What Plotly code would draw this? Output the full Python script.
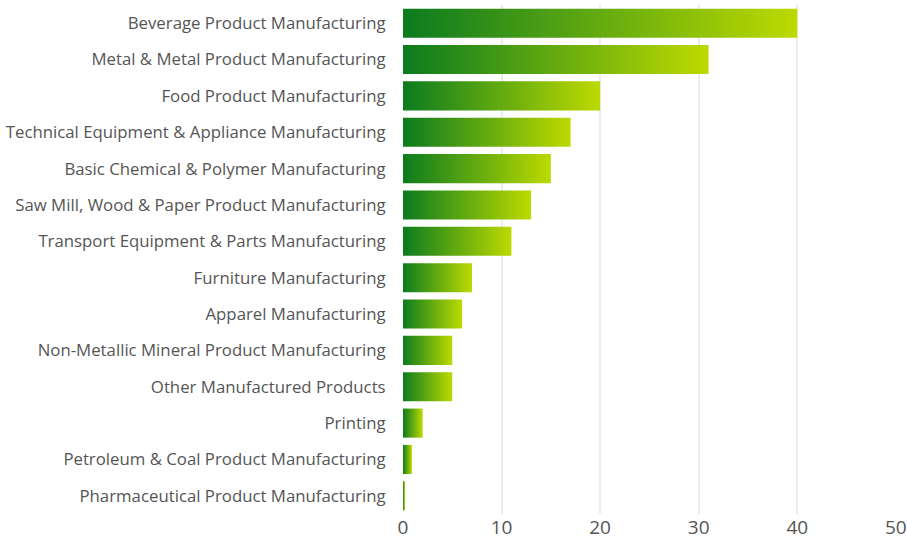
import plotly.graph_objects as go

# Industry categories (top to bottom) and their values
categories = [
    "Beverage Product Manufacturing",
    "Metal & Metal Product Manufacturing",
    "Food Product Manufacturing",
    "Technical Equipment & Appliance Manufacturing",
    "Basic Chemical & Polymer Manufacturing",
    "Saw Mill, Wood & Paper Product Manufacturing",
    "Transport Equipment & Parts Manufacturing",
    "Furniture Manufacturing",
    "Apparel Manufacturing",
    "Non-Metallic Mineral Product Manufacturing",
    "Other Manufactured Products",
    "Printing",
    "Petroleum & Coal Product Manufacturing",
    "Pharmaceutical Product Manufacturing",
]
values = [40, 31, 20, 17, 15, 13, 11, 7, 6, 5, 5, 2, 0.9, 0.2]
x_ticks = [0, 10, 20, 30, 40, 50]

GRAD_START = "#0b7b1f"
GRAD_END = "#bdda00"
BAR_WIDTH = 0.8

fig = go.Figure()

# Each bar is a filled rectangle so it can carry its own left-to-right gradient
positions = list(range(len(categories)))
for pos, val, name in zip(positions, values, categories):
    lo, hi = pos - BAR_WIDTH / 2, pos + BAR_WIDTH / 2
    fig.add_trace(go.Scatter(
        x=[0, val, val, 0, 0],
        y=[lo, lo, hi, hi, lo],
        mode="lines",
        line=dict(width=0),
        fill="toself",
        fillgradient=dict(
            type="horizontal",
            colorscale=[[0, GRAD_START], [1, GRAD_END]],
        ),
        name=name,
        hoverinfo="skip",
        showlegend=False,
    ))

fig.update_layout(
    width=907,
    height=545,
    margin=dict(l=403, r=11, t=5, b=31),
    paper_bgcolor="white",
    plot_bgcolor="white",
    font=dict(family="Open Sans, sans-serif", color="#555555"),
    xaxis=dict(
        range=[0, 50.02],
        automargin=False,
        tickvals=x_ticks,
        ticktext=[str(t) for t in x_ticks],
        showgrid=True,
        gridcolor="#ececec",
        gridwidth=2,
        zeroline=False,
        showline=False,
        ticks="",
        tickfont=dict(size=19, color="#555555"),
        fixedrange=True,
    ),
    yaxis=dict(
        range=[len(categories) - 0.5, -0.5],
        automargin=False,
        tickvals=positions,
        ticktext=categories,
        showgrid=False,
        zeroline=False,
        showline=False,
        ticks="outside",
        ticklen=13,
        tickcolor="rgba(0,0,0,0)",
        tickfont=dict(size=16.8, color="#555555"),
        fixedrange=True,
    ),
)

fig.write_html("out.html")
